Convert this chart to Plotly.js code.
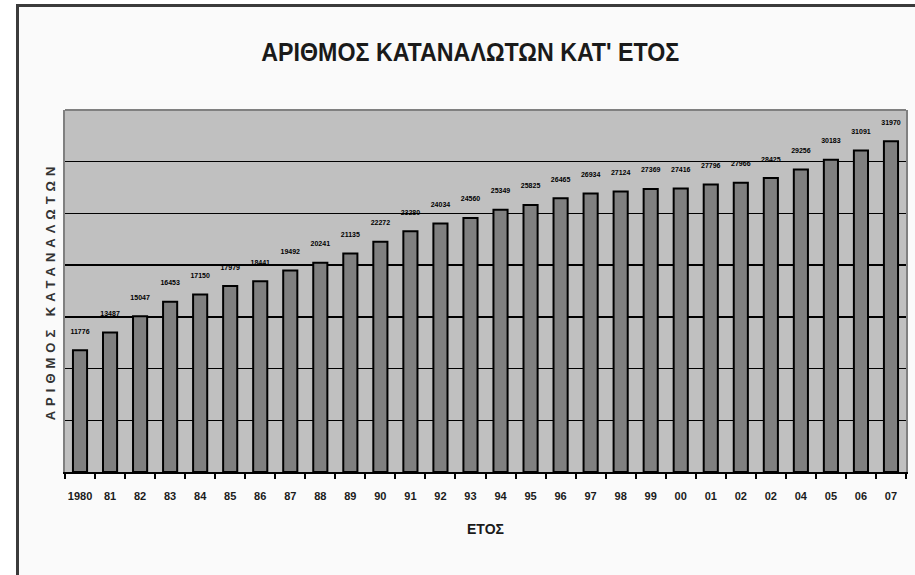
<!DOCTYPE html>
<html>
<head>
<meta charset="utf-8">
<script src="https://cdn.plot.ly/plotly-3.0.1.min.js"></script>
<style>
  html, body { margin:0; padding:0; background:#ffffff; width:915px; height:575px; overflow:hidden; }
  #frame { position:absolute; left:16px; top:4px; width:915px; height:600px; border:3px solid #3b3b3b; background:#fafafa; }
  #chart { position:absolute; left:0; top:0; width:915px; height:575px; }
</style>
</head>
<body>
<div id="frame"></div>
<div id="chart"></div>
<script>
// Year labels as printed on the chart (note the original repeats "02")
const yearLabels = ['1980','81','82','83','84','85','86','87','88','89','90','91','92','93','94','95','96','97','98','99','00','01','02','02','04','05','06','07'];
// Number of consumers per year
const consumers = [11776,13487,15047,16453,17150,17979,18441,19492,20241,21135,22272,23280,24034,24560,25349,25825,26465,26934,27124,27369,27416,27796,27966,28425,29256,30183,31091,31970];
const titleText = 'ΑΡΙΘΜΟΣ ΚΑΤΑΝΑΛΩΤΩΝ ΚΑΤ\' ΕΤΟΣ';
const xTitle = 'ΕΤΟΣ';
const yTitle = 'ΑΡΙΘΜΟΣ ΚΑΤΑΝΑΛΩΤΩΝ';

const idx = yearLabels.map((_, i) => i);
const boundaries = [];
for (let i = 0; i <= yearLabels.length; i++) boundaries.push(i - 0.5);

const FONT = '"Liberation Sans", Arial, sans-serif';

const bars = {
  type: 'bar',
  x: idx,
  y: consumers,
  width: 0.47,
  marker: { color: '#808080', line: { color: '#000000', width: 2 } },
  hoverinfo: 'x+y'
};
const labels = {
  type: 'scatter',
  mode: 'markers+text',
  x: idx,
  y: consumers,
  text: consumers.map(String),
  textposition: 'top center',
  textfont: { family: FONT, size: 7, color: '#000', weight: 'bold' },
  marker: { size: 22, opacity: 0 },
  cliponaxis: false,
  hoverinfo: 'skip'
};
const labelAxisTrace = {
  type: 'scatter', mode: 'markers', x: [0], y: [0], xaxis: 'x2',
  marker: { opacity: 0 }, hoverinfo: 'skip'
};

const layout = {
  width: 915, height: 575,
  margin: { l: 65, r: 9, t: 110, b: 103 },
  paper_bgcolor: 'rgba(0,0,0,0)',
  plot_bgcolor: '#c0c0c0',
  showlegend: false,
  font: { family: FONT, color: '#000' },
  title: {
    text: titleText,
    font: { family: FONT, size: 26, color: '#1a1a1a', weight: 'bold' },
    x: 0.514, xref: 'container', xanchor: 'center',
    y: 1 - 52/575, yref: 'container', yanchor: 'middle'
  },
  xaxis: {
    type: 'linear', range: [-0.5, yearLabels.length - 0.5],
    showgrid: false, zeroline: false,
    showline: true, linecolor: '#000', linewidth: 2,
    tickmode: 'array', tickvals: boundaries, showticklabels: false,
    ticks: 'outside', ticklen: 5, tickwidth: 2, tickcolor: '#000',
    fixedrange: true
  },
  xaxis2: {
    overlaying: 'x', side: 'bottom', anchor: 'y',
    type: 'linear', range: [-0.5, yearLabels.length - 0.5],
    showgrid: false, zeroline: false, showline: false,
    tickmode: 'array', tickvals: idx, ticktext: yearLabels,
    ticks: 'outside', ticklen: 14, tickcolor: 'rgba(0,0,0,0)',
    tickfont: { family: FONT, size: 11, color: '#1a1a1a', weight: 'bold' },
    title: { text: xTitle, standoff: 22, font: { family: FONT, size: 14, color: '#1a1a1a', weight: 'bold' } },
    fixedrange: true
  },
  yaxis: {
    range: [0, 35000],
    tickmode: 'array', tickvals: [5000,10000,15000,20000,25000,30000],
    showticklabels: false, ticks: '',
    showgrid: true, gridcolor: '#000', gridwidth: 1.5,
    zeroline: false,
    showline: true, linecolor: '#808080', linewidth: 2, mirror: true,
    title: { text: yTitle, standoff: 4, font: { family: FONT, size: 13, color: '#333', weight: 'bold' } },
    fixedrange: true
  },
  shapes: [
    { type: 'line', xref: 'paper', yref: 'paper', x0: 0, x1: 1, y0: 1, y1: 1,
      line: { color: '#808080', width: 2 } }
  ]
};

Plotly.newPlot('chart', [bars, labels, labelAxisTrace], layout, { displayModeBar: false, staticPlot: true }).then(() => {
  const yt = document.querySelector('.ytitle');
  if (yt) yt.style.letterSpacing = '5px';
  const gt = document.querySelector('.gtitle');
  if (gt) { gt.setAttribute('textLength', '418'); gt.setAttribute('lengthAdjust', 'spacingAndGlyphs'); }
});
</script>
</body>
</html>
